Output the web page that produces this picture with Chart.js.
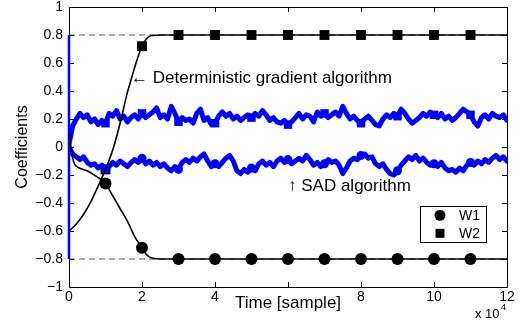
<!DOCTYPE html>
<html><head><meta charset="utf-8">
<script src="https://cdn.jsdelivr.net/npm/chart.js@4.4.0/dist/chart.umd.min.js"></script>
<style>html,body{margin:0;padding:0;background:#fff;}canvas{display:block;}</style>
</head><body>
<canvas id="c" width="521" height="326"></canvas>
<script>
// ---- tick labels ----
const xTicks = [0, 2, 4, 6, 8, 10, 12];
const xTickLabels = ['0', '2', '4', '', '8', '10', '12'];
const yTicks = [-1, -0.8, -0.6, -0.4, -0.2, 0, 0.2, 0.4, 0.6, 0.8, 1];
const yTickLabels = ['\u22121', '\u22120.8', '\u22120.6', '\u22120.4', '\u22120.2', '0', '0.2', '0.4', '0.6', '0.8', '1'];

// ---- SAD algorithm (noisy, blue), sampled every 0.1 x 10^4 samples ----
const sadStep = 0.1;
const sadW2 = [0.02,
  0.15, 0.2, 0.24, 0.21, 0.23, 0.18, 0.2, 0.16, 0.19, 0.17,
  0.24, 0.22, 0.26, 0.2, 0.22, 0.18, 0.21, 0.23, 0.2, 0.24,
  0.21, 0.23, 0.25, 0.28, 0.21, 0.23, 0.2, 0.29, 0.24, 0.18,
  0.21, 0.19, 0.2, 0.17, 0.24, 0.27, 0.19, 0.21, 0.16, 0.17,
  0.22, 0.25, 0.22, 0.24, 0.2, 0.22, 0.19, 0.21, 0.23, 0.21,
  0.24, 0.22, 0.26, 0.23, 0.19, 0.21, 0.18, 0.17, 0.19, 0.16,
  0.18, 0.21, 0.24, 0.2, 0.23, 0.22, 0.18, 0.25, 0.22, 0.24,
  0.21, 0.23, 0.25, 0.22, 0.29, 0.24, 0.2, 0.22, 0.19, 0.17,
  0.2, 0.22, 0.19, 0.16, 0.15, 0.2, 0.23, 0.21, 0.24, 0.22,
  0.27, 0.24, 0.2, 0.17, 0.19, 0.21, 0.24, 0.22, 0.25, 0.23,
  0.21, 0.24, 0.2, 0.22, 0.19, 0.21, 0.24, 0.27, 0.25, 0.23,
  0.18, 0.15, 0.21, 0.23, 0.2, 0.24, 0.22, 0.21, 0.23, 0.19];
const sadW1 = [0.0,
  -0.05, -0.07, -0.09, -0.07, -0.11, -0.13, -0.12, -0.15, -0.13, -0.16,
  -0.14, -0.11, -0.13, -0.1, -0.12, -0.14, -0.11, -0.09, -0.11, -0.08,
  -0.12, -0.1, -0.13, -0.11, -0.14, -0.12, -0.15, -0.17, -0.14, -0.16,
  -0.11, -0.09, -0.11, -0.08, -0.1, -0.07, -0.05, -0.1, -0.14, -0.12,
  -0.14, -0.11, -0.08, -0.06, -0.1, -0.17, -0.19, -0.16, -0.18, -0.15,
  -0.17, -0.12, -0.1, -0.13, -0.11, -0.14, -0.1, -0.08, -0.11, -0.09,
  -0.12, -0.1, -0.08, -0.1, -0.06, -0.09, -0.13, -0.11, -0.14, -0.12,
  -0.09, -0.11, -0.1, -0.13, -0.19, -0.15, -0.1, -0.08, -0.09, -0.06,
  -0.05, -0.08, -0.07, -0.12, -0.14, -0.12, -0.16, -0.19, -0.2, -0.17,
  -0.13, -0.1, -0.07, -0.09, -0.06, -0.1, -0.08, -0.11, -0.13, -0.12,
  -0.14, -0.11, -0.15, -0.17, -0.16, -0.18, -0.15, -0.17, -0.13, -0.11,
  -0.13, -0.1, -0.12, -0.09, -0.11, -0.08, -0.06, -0.09, -0.07, -0.1];
// initial transient of the SAD estimates at t = 0
const sadSpikeTime = [0, 0];
const sadSpikeValues = [0.8, -0.8];

// ---- Deterministic gradient algorithm (smooth, black) ----
const detTimeW1 = [0, 0.05, 0.1, 0.15, 0.25, 0.5, 0.75, 1.0, 1.2, 1.4, 1.6, 1.8, 2.0, 2.1, 2.2, 2.3, 2.5, 3, 12];
const detW1 = [0.1, 0.0, -0.08, -0.12, -0.145, -0.17, -0.21, -0.26, -0.35, -0.44, -0.53, -0.64, -0.72, -0.76, -0.785, -0.795, -0.8, -0.8, -0.8];
const detTimeW2 = [0, 0.2, 0.4, 0.6, 0.8, 1.0, 1.2, 1.4, 1.6, 1.7, 1.8, 1.9, 2.0, 2.1, 2.2, 2.3, 2.5, 3, 12];
const detW2 = [-0.6, -0.55, -0.48, -0.39, -0.28, -0.16, -0.02, 0.17, 0.39, 0.48, 0.57, 0.65, 0.72, 0.765, 0.79, 0.797, 0.8, 0.8, 0.8];

// ---- markers every 10^4 samples ----
const markerTime = [1, 2, 3, 4, 5, 6, 7, 8, 9, 10, 11];
const markerW1 = [-0.26, -0.72, -0.8, -0.8, -0.8, -0.8, -0.8, -0.8, -0.8, -0.8, -0.8];
const markerW2 = [-0.16, 0.72, 0.8, 0.8, 0.8, 0.8, 0.8, 0.8, 0.8, 0.8, 0.8];

// ---- optimal values (dashed) ----
const optimalTime = [0, 12];
const optimalW1 = [-0.8, -0.8];
const optimalW2 = [0.8, 0.8];

const FONT = '"Liberation Sans", Arial, Helvetica, sans-serif';
const BLUE = '#0000ff';

const pts = (xs, ys) => ys.map((y, i) => ({x: xs[i], y}));
const sadPts = arr => arr.map((y, i) => ({x: +(i * sadStep).toFixed(2), y}));
const sadMarkers = arr => markerTime.map(t => ({x: t, y: arr[Math.round(t / sadStep)]}));

const datasets = [
  {data: pts(detTimeW2, detW2), borderColor: '#000', borderWidth: 1.6, pointRadius: 0, cubicInterpolationMode: 'monotone'},
  {data: pts(detTimeW1, detW1), borderColor: '#000', borderWidth: 1.6, pointRadius: 0, cubicInterpolationMode: 'monotone'},
  {data: sadPts(sadW2), borderColor: BLUE, borderWidth: 5, pointRadius: 0, borderJoinStyle: 'round', borderCapStyle: 'round'},
  {data: sadPts(sadW1), borderColor: BLUE, borderWidth: 5, pointRadius: 0, borderJoinStyle: 'round', borderCapStyle: 'round'},
  {data: pts(sadSpikeTime, sadSpikeValues), borderColor: BLUE, borderWidth: 2.5, pointRadius: 0, clip: false},
  {data: sadMarkers(sadW2), showLine: false, pointStyle: 'rect', pointRadius: 6, backgroundColor: BLUE, borderColor: BLUE, borderWidth: 0},
  {data: sadMarkers(sadW1), showLine: false, pointStyle: 'circle', pointRadius: 4.5, backgroundColor: BLUE, borderColor: BLUE, borderWidth: 0},
  {data: pts(markerTime, markerW2), showLine: false, pointStyle: 'rect', pointRadius: 7, backgroundColor: '#000', borderColor: '#000', borderWidth: 0},
  {data: pts(markerTime, markerW1), showLine: false, pointStyle: 'circle', pointRadius: 6, backgroundColor: '#000', borderColor: '#000', borderWidth: 0},
  {data: pts(optimalTime, optimalW2), borderColor: '#555', borderWidth: 1, borderDash: [6, 4], pointRadius: 0},
  {data: pts(optimalTime, optimalW1), borderColor: '#555', borderWidth: 1, borderDash: [6, 4], pointRadius: 0}
];

const framePlugin = {
  id: 'frame',
  beforeDatasetsDraw(chart) {
    const {ctx, chartArea: a, scales: {x, y}} = chart;
    ctx.save();
    // box
    ctx.strokeStyle = '#000';
    ctx.lineWidth = 1;
    ctx.strokeRect(Math.round(a.left) + 0.5, Math.round(a.top) + 0.5, Math.round(a.right - a.left), Math.round(a.bottom - a.top));
    // inner ticks on all sides
    const tl = 5;
    ctx.beginPath();
    xTicks.forEach(v => {
      const px = Math.round(x.getPixelForValue(v)) + 0.5;
      ctx.moveTo(px, a.bottom); ctx.lineTo(px, a.bottom - tl);
      ctx.moveTo(px, a.top); ctx.lineTo(px, a.top + tl);
    });
    yTicks.forEach(v => {
      const py = Math.round(y.getPixelForValue(v)) + 0.5;
      ctx.moveTo(a.left, py); ctx.lineTo(a.left + tl, py);
      ctx.moveTo(a.right, py); ctx.lineTo(a.right - tl, py);
    });
    ctx.stroke();
    ctx.restore();
  },
  afterDraw(chart) {
    const {ctx, chartArea: a, scales: {x, y}} = chart;
    ctx.save();
    // annotations
    ctx.fillStyle = '#000';
    ctx.textBaseline = 'middle';
    ctx.textAlign = 'left';
    ctx.font = '17px ' + FONT;
    ctx.fillText('\u2190 Deterministic gradient algorithm', x.getPixelForValue(1.7), y.getPixelForValue(0.49));
    ctx.fillText('\u2191 SAD algorithm', x.getPixelForValue(6.0), y.getPixelForValue(-0.28));

    // x 10^4
    ctx.textBaseline = 'alphabetic';
    ctx.font = '13px ' + FONT;
    ctx.fillText('x 10', a.right - 32, 318);
    ctx.font = '9px ' + FONT;
    ctx.fillText('4', a.right - 6, 310);

    // legend box
    const lx = a.right - 87, ly = y.getPixelForValue(-0.42), lw = 66, lh = 36;
    ctx.fillStyle = '#fff';
    ctx.fillRect(Math.round(lx) + 0.5, Math.round(ly) + 0.5, lw, lh);
    ctx.strokeStyle = '#000';
    ctx.lineWidth = 1;
    ctx.strokeRect(Math.round(lx) + 0.5, Math.round(ly) + 0.5, lw, lh);
    ctx.fillStyle = '#000';
    ctx.beginPath();
    ctx.arc(lx + 20, ly + 9.5, 5.5, 0, Math.PI * 2);
    ctx.fill();
    ctx.fillRect(lx + 15.5, ly + 23, 9, 9);
    ctx.font = '14px ' + FONT;
    ctx.textBaseline = 'middle';
    ctx.fillText('W1', lx + 39, ly + 10);
    ctx.fillText('W2', lx + 39, ly + 28);
    ctx.restore();
  }
};

new Chart(document.getElementById('c'), {
  type: 'line',
  data: {datasets},
  options: {
    responsive: false,
    animation: false,
    events: [],
    layout: {padding: {left: 0, right: 14, top: 5, bottom: 0}},
    plugins: {legend: {display: false}, tooltip: {enabled: false}},
    scales: {
      x: {
        type: 'linear', min: 0, max: 12,
        grid: {display: false, drawTicks: false}, border: {display: false},
        afterBuildTicks: s => { s.ticks = xTicks.map(v => ({value: v})); },
        ticks: {callback: v => xTickLabels[xTicks.indexOf(v)], font: {family: FONT, size: 14}, color: '#000', padding: 2, maxRotation: 0, autoSkip: false},
        title: {display: true, text: 'Time [sample]', font: {family: FONT, size: 17}, color: '#000', padding: {top: 0, bottom: 12}},
        afterFit: s => { s.height = 39; s.paddingLeft = 0; s.paddingRight = 0; }
      },
      y: {
        type: 'linear', min: -1, max: 1,
        grid: {display: false, drawTicks: false}, border: {display: false},
        afterBuildTicks: s => { s.ticks = yTicks.map(v => ({value: v})); },
        ticks: {callback: v => yTickLabels[yTicks.findIndex(t => Math.abs(t - v) < 1e-9)], font: {family: FONT, size: 14}, color: '#000', padding: 6, autoSkip: false},
        title: {display: true, text: 'Coefficients', font: {family: FONT, size: 16}, color: '#000', padding: {top: 13, bottom: 0}},
        afterFit: s => { s.width = 69; s.paddingTop = 0; s.paddingBottom = 0; }
      }
    }
  },
  plugins: [framePlugin]
});
</script>
</body></html>
